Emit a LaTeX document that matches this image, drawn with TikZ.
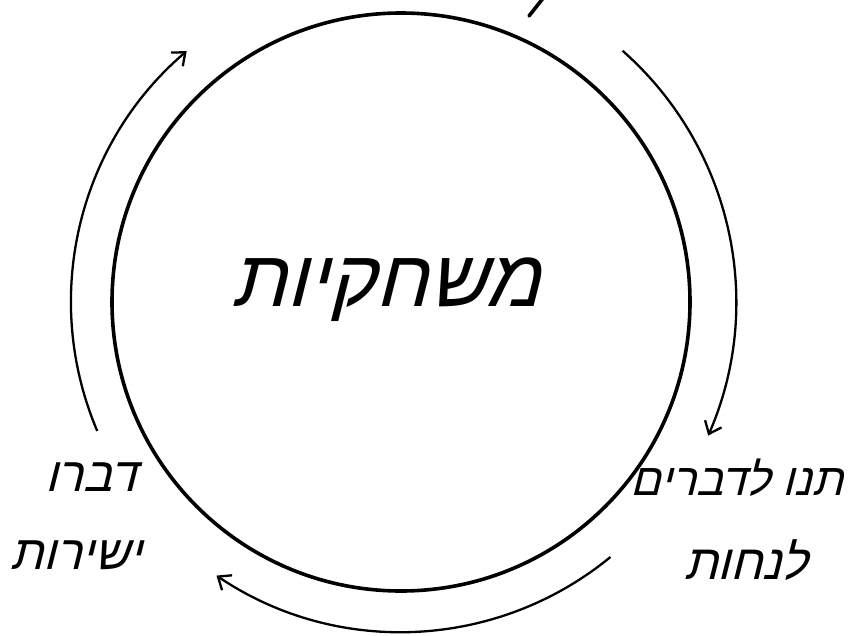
\documentclass[tikz,border=0pt]{standalone}
\usepackage{fontspec}
\TeXXeTstate=1
\newfontfamily\hebfont[Script=Hebrew,FakeSlant=0.25]{Liberation Sans}
\usetikzlibrary{arrows.meta}
\begin{document}
\begin{tikzpicture}[x=1pt,y=-1pt,
  arr/.style={line width=2.3pt,-{Straight Barb[length=11pt,width=18pt,line width=2.3pt]}},
  lbl/.style={font=\hebfont\fontsize{48}{56}\selectfont,inner sep=0pt},
  big/.style={font=\hebfont\fontsize{80}{90}\selectfont,inner sep=0pt}]
\useasboundingbox (0,0) rectangle (857,635);
\node[circle,draw,line width=3.6pt,minimum size=578pt,inner sep=0pt] (c) at (401,302) {};
\node[big] (t) at (386,290) {\beginR משחקיות\endR};
\node[lbl,font=\hebfont\fontsize{45}{52}\selectfont] (r1) at (737,478) {\beginR תנו לדברים\endR};
\node[lbl,font=\hebfont\fontsize{49}{56}\selectfont] (r2) at (746,560) {\beginR לנחות\endR};
\node[lbl] (l1) at (91,477) {\beginR דברו\endR};
\node[lbl] (l2) at (76,555) {\beginR ישירות\endR};
\draw[arr] ([shift={(157:330)}]c.center) arc[start angle=157,end angle=229.5,radius=330];
\draw[arr] ([shift={(-48.6:335)}]c.center) arc[start angle=-48.6,end angle=23.5,radius=335];
\draw[arr] ([shift={(50.6:330)}]c.center) arc[start angle=50.6,end angle=124,radius=330];
\coordinate (f1) at (529,16);
\coordinate (f2) at (544,-3);
\draw[line width=3.6pt,line cap=round] (f1) -- (f2);
\end{tikzpicture}
\end{document}
